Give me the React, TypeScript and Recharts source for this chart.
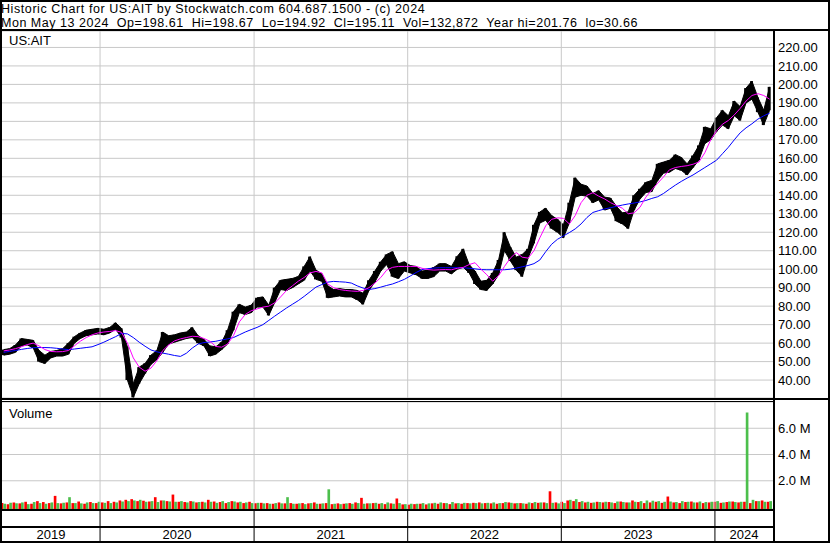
import React from 'react';
import { ComposedChart, Bar, Line, Area, XAxis, YAxis, CartesianGrid, ReferenceLine } from 'recharts';

const FONT = "'Liberation Sans', Arial, sans-serif";

const HEADER_LINE_1 = 'Historic Chart for US:AIT by Stockwatch.com 604.687.1500 - (c) 2024';
const HEADER_LINE_2 = 'Mon May 13 2024  Op=198.61  Hi=198.67  Lo=194.92  Cl=195.11  Vol=132,872  Year hi=201.76  lo=30.66';
const SYMBOL = 'US:AIT';

const START_DATE = '2019-05-17';
const STEP_DAYS = 14;
const DOMAIN_START = '2019-05-13';
const DOMAIN_END = '2024-05-18';
const YEAR_STARTS = ['2020-01-01', '2021-01-01', '2022-01-01', '2023-01-01', '2024-01-01'];
const YEAR_LABELS = ['2019', '2020', '2021', '2022', '2023', '2024'];
const PRICE_TICKS = [40, 50, 60, 70, 80, 90, 100, 110, 120, 130, 140, 150, 160, 170, 180, 190, 200, 210, 220];
const VOLUME_TICKS = [2, 4, 6];

const lows = [
  53.5, 54, 55, 58.5, 59, 57.5, 50, 49, 52, 53,
  53, 54, 60, 62.5, 64, 64.5, 65, 64.5, 65.5, 67.5,
  63, 40, 30.66, 38, 43.5, 48.5, 51, 55, 59.5, 60.5,
  61.5, 62.5, 63, 60, 58.5, 53, 54, 56.5, 59.5, 67,
  76.5, 75.5, 76.5, 79.5, 79.5, 75, 82, 89, 88.5, 90,
  92, 94, 99, 94.5, 93.5, 84.5, 85, 85.5, 85, 85,
  83.5, 81, 88.5, 93, 99, 102.5, 96, 95, 99, 98,
  97, 95, 95, 96, 99, 99, 97.5, 100, 101, 98,
  92, 89, 88.5, 92, 97, 110, 104.5, 99.5, 96, 106,
  114, 125, 126.5, 122, 120, 117, 125, 139, 140, 139.5,
  136, 137.5, 132, 133, 126, 124.5, 122, 132, 138, 141.5,
  142, 148, 152, 152.5, 154.5, 153.5, 151, 155, 159, 168,
  170, 174.5, 178, 176, 183, 180.5, 190, 192, 185, 178,
  186,
];

const highs = [
  56.5, 57, 59, 62.5, 62, 61.5, 56, 53.5, 55.5, 56,
  57, 60, 63.5, 65.5, 67, 67.5, 68, 67.5, 68.5, 71,
  68, 58, 38, 47, 49, 53.5, 56, 66, 64, 64.5,
  65.5, 66, 68.5, 64, 62, 58.5, 58, 60.5, 67, 77,
  81, 79.5, 80.5, 84.5, 85, 80.5, 90, 94, 94.5, 95,
  96, 101.5, 106.8, 99.5, 97.5, 91, 89, 89.5, 89, 89,
  88.5, 87, 94, 99, 104, 108, 109.5, 103, 104, 102,
  101.5, 99, 99.5, 101, 103, 103, 101.5, 107, 111, 102.5,
  99, 93.5, 94, 98, 105, 120, 112, 106.5, 108, 111,
  124, 131, 133, 129, 127, 124, 136, 149.5, 146, 145,
  141, 142.5, 139, 138.5, 134, 130.5, 131, 140, 143.5, 147,
  148, 157, 158, 159, 162, 160.5, 157, 161.5, 167, 177,
  176, 182, 186, 183, 191, 188, 198, 201.76, 193, 186,
  198.67,
];

const maFast = [
  55.8, 56.3, 57, 58, 59.2, 60, 58.5, 56.5, 55.5, 55.3,
  55.4, 56, 58.5, 61, 63, 64.5, 65.5, 66, 66.3, 66.8,
  65.8, 60, 52, 47, 44.8, 46.5, 50.5, 56, 59, 61.2,
  62.3, 63, 63.7, 63.5, 62.5, 61, 58.2, 57.8, 59.5, 64,
  71.5, 75.5, 77.5, 78.5, 79.5, 80, 81.8, 85, 88.5, 91,
  93.5, 95.5, 98, 98.8, 98, 92, 90, 89, 88.5, 88.2,
  88, 88.5, 90, 92.5, 95.5, 99.5, 101, 101.5, 101.5, 101.5,
  101.5, 100.5, 99.8, 99.5, 99.7, 99.8, 99.7, 100.5, 101, 102.5,
  103.5, 100, 97, 93.5, 96.5, 101.5, 106, 109, 106.5, 106,
  110, 117, 123.5, 127, 127.8, 127.5, 124.5, 129, 136, 140,
  141.4, 139.5, 138, 136, 134.5, 133, 130, 130.5, 133.5, 139,
  143, 146.5, 150, 153.8, 155, 155.6, 156, 156.8, 158, 163,
  170, 175, 178.5, 180.5, 183.5, 187, 191, 194, 195, 194,
  192,
];

const maSlow = [
  55, 55.5, 56, 56.6, 57.1, 57.5, 57.6, 57.6, 57.5, 57.2,
  56.8, 56.5, 56.8, 57.2, 57.6, 58, 59.2, 60.5, 62, 63.5,
  65.2, 65, 63, 60.5, 58.3, 56.3, 55.3, 54.6, 54, 53.3,
  52.8, 54.5, 57.3, 59.5, 60.3, 60.6, 61, 61.7, 62.3, 63,
  64.5, 66, 67.3, 68.5, 70, 72.3, 74.6, 76.8, 79, 81,
  83, 85.3, 87.8, 90.3, 91.7, 93, 93.4, 93.2, 93, 92.5,
  91, 89.8, 89, 89.5, 90.3, 91.2, 92, 93.2, 94.5, 96.3,
  98.2, 99.8, 100.3, 100.6, 100.8, 100.8, 100.8, 100.8, 100.8, 100.5,
  100.2, 99.8, 99.7, 99.7, 99.7, 99.7, 100, 100.6, 101.3, 102,
  103, 105, 109.5, 113.5, 116.2, 118, 119.8, 121.8, 124.5, 128,
  130.7, 131.7, 132.6, 133.3, 134, 134.7, 135.3, 135.8, 136.4, 137.2,
  138.3, 139.2, 141, 143.3, 145.5, 147.5, 149.3, 151, 153, 155,
  157, 159, 162.5, 166, 170, 173.8, 176.5, 178.7, 181.2, 183,
  184.5,
];

// volume in millions of shares: heaviest down-day and up-day in each period
const volDown = [
  0.30, 0.22, 0.35, 0.28, 0.40, 0.25, 0.45, 0.38, 0.30, 0.85,
  0.28, 0.35, 0.30, 0.42, 0.25, 0.38, 0.30, 0.35, 0.45, 0.40,
  0.50, 0.55, 0.60, 0.45, 0.48, 0.42, 0.75, 0.50, 0.45, 0.95,
  0.40, 0.38, 0.45, 0.35, 0.40, 0.55, 0.42, 0.38, 0.30, 0.45,
  0.35, 0.30, 0.40, 0.28, 0.32, 0.30, 0.25, 0.35, 0.28, 0.30,
  0.25, 0.30, 0.28, 0.35, 0.25, 0.30, 0.22, 0.28, 0.25, 0.30,
  0.35, 0.70, 0.28, 0.30, 0.25, 0.22, 0.28, 0.65, 0.20, 0.18,
  0.22, 0.25, 0.20, 0.28, 0.25, 0.30, 0.22, 0.28, 0.25, 0.30,
  0.32, 0.35, 0.30, 0.28, 0.25, 0.30, 0.35, 0.28, 0.30, 0.25,
  0.30, 0.32, 0.35, 1.20, 0.35, 0.40, 0.50, 0.45, 0.38, 0.35,
  0.32, 0.40, 0.35, 0.38, 0.30, 0.42, 0.35, 0.50, 0.38, 0.30,
  0.35, 0.40, 0.32, 0.80, 0.35, 0.30, 0.38, 0.42, 0.35, 0.30,
  0.35, 0.40, 0.32, 0.38, 0.42, 0.35, 0.40, 0.30, 0.45, 0.50,
  0.40,
];

const volUp = [
  0.25, 0.32, 0.28, 0.35, 0.22, 0.38, 0.30, 0.25, 0.35, 0.30,
  0.32, 0.75, 0.30, 0.28, 0.35, 0.30, 0.40, 0.32, 0.30, 0.35,
  0.42, 0.45, 0.50, 0.55, 0.40, 0.45, 0.38, 0.50, 0.42, 0.40,
  0.45, 0.35, 0.42, 0.38, 0.35, 0.40, 0.32, 0.45, 0.38, 0.42,
  0.40, 0.35, 0.30, 0.32, 0.28, 0.25, 0.30, 0.28, 0.75, 0.25,
  0.28, 0.22, 0.30, 0.25, 0.28, 1.35, 0.25, 0.22, 0.28, 0.25,
  0.30, 0.25, 0.28, 0.32, 0.30, 0.35, 0.25, 0.30, 0.22, 0.25,
  0.25, 0.30, 0.28, 0.32, 0.35, 0.30, 0.38, 0.30, 0.32, 0.28,
  0.30, 0.28, 0.32, 0.35, 0.30, 0.38, 0.32, 0.30, 0.28, 0.35,
  0.38, 0.35, 0.30, 0.32, 0.28, 0.30, 0.55, 0.60, 0.45, 0.40,
  0.35, 0.38, 0.40, 0.35, 0.42, 0.38, 0.35, 0.40, 0.45, 0.50,
  0.48, 0.45, 0.40, 0.42, 0.38, 0.45, 0.40, 0.35, 0.42, 0.38,
  0.40, 0.45, 0.35, 0.42, 0.38, 0.40, 7.20, 0.55, 0.45, 0.40,
  0.45,
];

const DAY = 86400000;
const toTime = (s: string) => Date.parse(s + 'T00:00:00Z');
const T0 = toTime(DOMAIN_START);
const T1 = toTime(DOMAIN_END);
const yearStartTimes = YEAR_STARTS.map(toTime);
const VOL_FLOOR = -0.15;

const data = lows.map((lo, i) => ({
  t: toTime(START_DATE) + i * STEP_DAYS * DAY,
  range: [lo, highs[i]],
  fast: maFast[i],
  slow: maSlow[i],
  down: [VOL_FLOOR, volDown[i]],
  up: [VOL_FLOOR, volUp[i]],
}));

// x-axis ticks: year boundaries (dividers) and the middle of each year segment (labels)
const segmentEdges = [T0, ...yearStartTimes, T1];
const labelTicks = YEAR_LABELS.map((_, i) => (segmentEdges[i] + segmentEdges[i + 1]) / 2);
const labelByTick = new Map<number, string>(labelTicks.map((t, i) => [t, YEAR_LABELS[i]]));
const boundarySet = new Set<number>(yearStartTimes);
const bottomTicks = [...yearStartTimes, ...labelTicks].sort((a, b) => a - b);

const GRID = '#c8c8c8';
const tickStyle = { fill: '#000', fontSize: 13, fontFamily: FONT };

const YearTick = (props: any) => {
  const { x, y, payload } = props;
  const v = payload.value;
  if (boundarySet.has(v)) {
    return <line x1={x} x2={x} y1={y} y2={y + 32} stroke="#000" strokeWidth={1} />;
  }
  return (
    <text x={x} y={y + 30} textAnchor="middle" fill="#000" fontSize={13} fontFamily={FONT}>
      {labelByTick.get(v)}
    </text>
  );
};

const box = (style: React.CSSProperties) => <div style={{ position: 'absolute', background: '#000', ...style }} />;

const headerStyle: React.CSSProperties = {
  position: 'absolute', left: 1, fontSize: 12.5, lineHeight: '14px', height: 14,
  whiteSpace: 'pre', color: '#000',
};

export default function App() {
  return (
    <div style={{ position: 'absolute', left: 0, top: 0, width: 830, height: 543, background: '#fff', overflow: 'hidden', fontFamily: FONT }}>
      <div style={{ ...headerStyle, top: 2, letterSpacing: '0.58px' }}>{HEADER_LINE_1}</div>
      <div style={{ ...headerStyle, top: 16, letterSpacing: '0.52px' }}>{HEADER_LINE_2}</div>

      <div style={{ position: 'absolute', left: 0, top: 31 }}>
        <ComposedChart width={830} height={367} data={data} margin={{ top: 0, right: 0, bottom: 0, left: 2 }}>
          <CartesianGrid vertical={false} stroke={GRID} />
          <XAxis dataKey="t" type="number" domain={[T0, T1]} hide allowDataOverflow />
          <YAxis orientation="right" domain={[30.3, 228.9]} ticks={PRICE_TICKS} interval={0} width={57}
            axisLine={false} tickLine={false} tickSize={0} tickMargin={5} tick={tickStyle}
            tickFormatter={(v: number) => v.toFixed(2)} allowDataOverflow />
          {yearStartTimes.map((t) => <ReferenceLine key={t} x={t} stroke={GRID} />)}
          <Area dataKey="range" type="linear" fill="#000" fillOpacity={1} stroke="#000" strokeWidth={1} dot={false} activeDot={false} isAnimationActive={false} />
          <Bar dataKey="range" fill="#000" barSize={3} isAnimationActive={false} />
          <Line dataKey="slow" stroke="#0000ff" strokeWidth={1} dot={false} isAnimationActive={false} />
          <Line dataKey="fast" stroke="#ff00ff" strokeWidth={1} dot={false} isAnimationActive={false} />
        </ComposedChart>
      </div>

      <div style={{ position: 'absolute', left: 0, top: 402 }}>
        <ComposedChart width={830} height={139} data={data} margin={{ top: 0, right: 0, bottom: 0, left: 2 }} barGap={0}>
          <CartesianGrid vertical={false} stroke={GRID} />
          <XAxis dataKey="t" type="number" domain={[T0, T1]} ticks={bottomTicks} interval={0} height={32}
            axisLine={false} tickLine={false} tickSize={0} tickMargin={0} tick={<YearTick />} allowDataOverflow />
          <YAxis orientation="right" domain={[VOL_FLOOR, 8]} ticks={VOLUME_TICKS} interval={0} width={57}
            axisLine={false} tickLine={false} tickSize={0} tickMargin={5} tick={tickStyle}
            tickFormatter={(v: number) => v.toFixed(1) + ' M'} allowDataOverflow />
          {yearStartTimes.map((t) => <ReferenceLine key={t} x={t} stroke={GRID} />)}
          <Bar dataKey="down" fill="#ff0000" barSize={3} isAnimationActive={false} />
          <Bar dataKey="up" fill="#4cbf4c" barSize={3} isAnimationActive={false} />
        </ComposedChart>
      </div>

      <div style={{ position: 'absolute', left: 9, top: 33, fontSize: 13, lineHeight: '15px', color: '#000' }}>{SYMBOL}</div>
      <div style={{ position: 'absolute', left: 9, top: 406, fontSize: 13, lineHeight: '15px', color: '#000' }}>Volume</div>

      {box({ left: 0, top: 0, width: 830, height: 2 })}
      {box({ left: 0, top: 541, width: 830, height: 2 })}
      {box({ left: 0, top: 0, width: 2, height: 543 })}
      {box({ left: 828, top: 0, width: 2, height: 543 })}
      {box({ left: 0, top: 29, width: 830, height: 2 })}
      {box({ left: 773, top: 29, width: 2, height: 514 })}
      {box({ left: 0, top: 398, width: 830, height: 2 })}
      {box({ left: 0, top: 401, width: 775, height: 1 })}
      {box({ left: 0, top: 509, width: 775, height: 2 })}
      {box({ left: 0, top: 526, width: 775, height: 2 })}
    </div>
  );
}
